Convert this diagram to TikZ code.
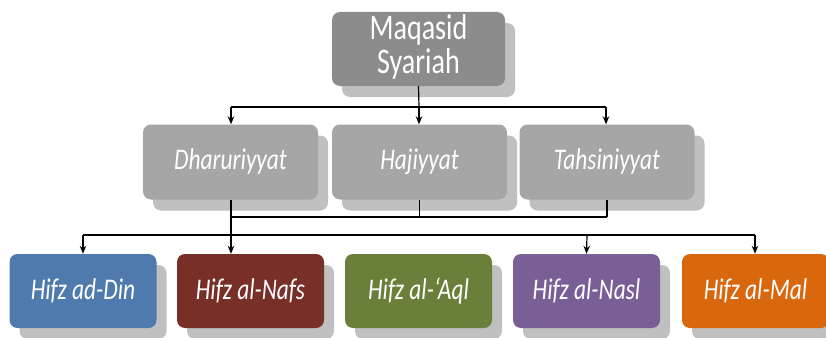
\documentclass[tikz,border=0pt]{standalone}
\usepackage{fontspec}
\setmainfont{Carlito}
\usetikzlibrary{shadows,arrows.meta}
\definecolor{topgray}{HTML}{8C8C8C}
\definecolor{midgray}{HTML}{A6A6A6}
\definecolor{shgray}{HTML}{C0C0C0}
\definecolor{cblue}{HTML}{4F7AAE}
\definecolor{cred}{HTML}{782F27}
\definecolor{cgreen}{HTML}{6A7F3A}
\definecolor{cpurple}{HTML}{7A5F96}
\definecolor{corange}{HTML}{D9670E}
\newcommand{\narrowtxt}[1]{\scalebox{0.78}[1]{#1}}
\tikzset{
  boxbase/.style={rounded corners=8pt, text=white, align=center, inner sep=0pt,
    drop shadow={shadow xshift=10pt, shadow yshift=-11pt, fill=shgray, opacity=1}},
  topbox/.style={boxbase, fill=topgray, minimum width=173pt, minimum height=74pt,
    font=\fontsize{36}{33}\selectfont},
  midbox/.style={boxbase, fill=midgray, minimum width=175pt, minimum height=75pt,
    font=\fontsize{30}{33}\selectfont\itshape},
  botbox/.style={boxbase, minimum width=147pt, minimum height=74pt,
    font=\fontsize{30}{33}\selectfont\itshape},
  conn/.style={line width=1.2pt, black},
  arr/.style={conn, -{Stealth[length=8pt,width=6.5pt]}}
}
\begin{document}
\begin{tikzpicture}[x=1pt,y=-1pt]
\useasboundingbox (0,0) rectangle (826,337);
\node[topbox] (top) at (418.5,49) {\narrowtxt{\begin{tabular}{@{}c@{}}Maqasid\\Syariah\end{tabular}}};
\node[midbox] (d) at (230.5,162) {\narrowtxt{Dharuriyyat}};
\node[midbox] (h) at (419.5,162) {\narrowtxt{Hajiyyat}};
\node[midbox] (t) at (607,162) {\narrowtxt{Tahsiniyyat}};
\node[botbox, fill=cblue] (b1) at (83,291) {\narrowtxt{Hifz ad-Din}};
\node[botbox, fill=cred] (b2) at (250.5,291) {\narrowtxt{Hifz al-Nafs}};
\node[botbox, fill=cgreen] (b3) at (418.5,291) {\narrowtxt{Hifz al-‘Aql}};
\node[botbox, fill=cpurple] (b4) at (586.5,291) {\narrowtxt{Hifz al-Nasl}};
\node[botbox, fill=corange] (b5) at (755.5,291) {\narrowtxt{Hifz al-Mal}};
% top to middle
\coordinate (j1) at (419,107);
\coordinate (j1l) at (231,107);
\coordinate (j1r) at (606,107);
\draw[conn] (top.south) -- (j1);
\draw[conn] (j1l) -- (j1r);
\draw[arr] (j1l) -- (j1l |- d.north);
\draw[arr] (j1) -- (j1 |- h.north);
\draw[arr] (j1r) -- (j1r |- t.north);
% middle collector
\coordinate (j2l) at (231,217);
\coordinate (j2r) at (607,217);
\draw[conn] (j2l |- d.south) -- (j2l);
\draw[conn] (h.south) -- (h.south |- j2l);
\draw[conn] (j2r |- t.south) -- (j2r);
\draw[conn] (j2l) -- (j2r);
% bottom bus
\coordinate (bl) at (83,235);
\coordinate (br) at (755,235);
\draw[conn] (bl) -- (br);
\draw[arr] (j2l) -- (j2l |- b2.north);
\draw[arr] (bl) -- (bl |- b1.north);
\draw[arr] (587,235) -- (b4.north);
\draw[arr] (br) -- (br |- b5.north);
\end{tikzpicture}
\end{document}
